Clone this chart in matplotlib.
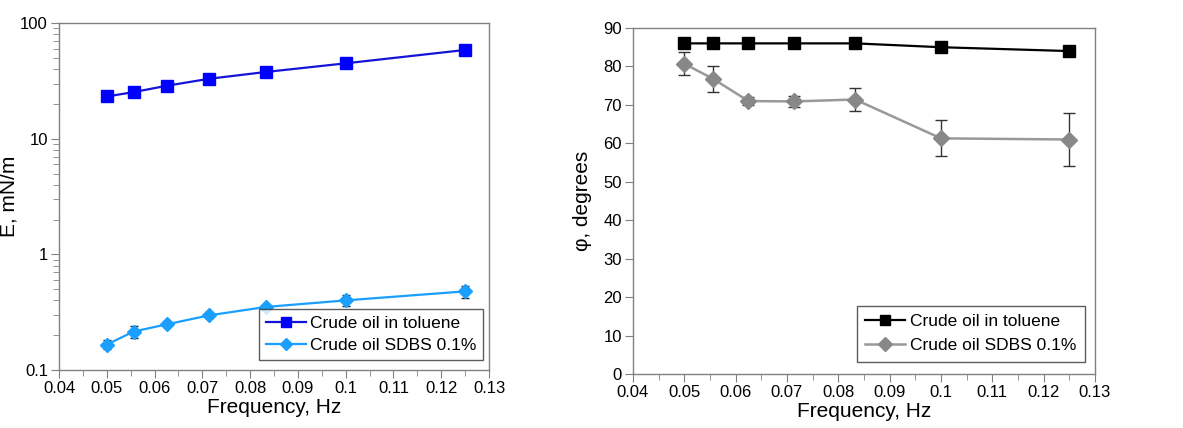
import matplotlib
matplotlib.use("Agg")
import matplotlib.pyplot as plt
from matplotlib.ticker import MultipleLocator, LogLocator, NullFormatter, FuncFormatter

plt.rcParams.update({
    "font.family": ["Liberation Sans", "DejaVu Sans"],
    "font.size": 11,
})

# oscillation frequency, Hz
freq = [0.05, 0.0556, 0.0625, 0.0714, 0.0833, 0.1, 0.125]

# dilatational modulus E, mN/m
e_toluene = [23.2, 25.3, 28.7, 33.0, 37.8, 44.9, 58.6]
e_toluene_err = [1.2, 1.5, 1.4, 1.5, 1.5, 2.0, 2.5]
e_sdbs = [0.166, 0.215, 0.248, 0.297, 0.351, 0.40, 0.479]
e_sdbs_err = [0.014, 0.025, 0.012, 0.018, 0.015, 0.042, 0.058]

# phase angle, degrees
phi_toluene = [86, 86, 86, 86, 86, 85, 84]
phi_sdbs = [80.7, 76.8, 71.0, 70.9, 71.4, 61.3, 61.0]
phi_sdbs_err = [3.0, 3.4, 1.1, 1.4, 3.0, 4.7, 7.0]

labels = ["Crude oil in toluene", "Crude oil SDBS 0.1%"]

fig = plt.figure(figsize=(11.83, 4.28), dpi=100)
ax1 = fig.add_axes([0.0499, 0.1355, 0.3635, 0.8105])
ax2 = fig.add_axes([0.535, 0.126, 0.3906, 0.8086])

SPINE = "#808080"


def style(ax):
    for s in ax.spines.values():
        s.set_color(SPINE)
        s.set_linewidth(1.0)
    ax.tick_params(which="both", direction="out", color=SPINE,
                   labelsize=12, top=False, right=False, pad=2)
    ax.tick_params(which="major", length=6)
    ax.tick_params(which="minor", length=4)
    ax.set_xlim(0.04, 0.13)
    ax.xaxis.set_major_locator(MultipleLocator(0.01))
    ax.xaxis.set_minor_locator(MultipleLocator(0.005))
    ax.xaxis.set_major_formatter(FuncFormatter(lambda v, p: f"{v:g}"))
    ax.set_xlabel("Frequency, Hz", fontsize=15, labelpad=1)


# ---- left: modulus ----
style(ax1)
ax1.set_yscale("log")
ax1.set_ylim(0.1, 100)
ax1.yaxis.set_major_locator(LogLocator(base=10))
ax1.yaxis.set_minor_locator(LogLocator(base=10, subs=range(2, 10)))
ax1.yaxis.set_minor_formatter(NullFormatter())
ax1.yaxis.set_major_formatter(FuncFormatter(lambda v, p: f"{v:g}"))
ax1.set_ylabel("E, mN/m", fontsize=15)
ax1.yaxis.set_label_coords(-0.095, 0.5)

ax1.errorbar(freq, e_toluene, yerr=e_toluene_err, color="#1414d8", lw=1.6,
             marker="s", ms=8, mfc="#0000ff", mec="#0000ff",
             ecolor="#222222", elinewidth=1, capsize=3, label=labels[0])
ax1.errorbar(freq, e_sdbs, yerr=e_sdbs_err, color="#1a9fff", lw=1.6,
             marker="D", ms=7, mfc="#1a9fff", mec="#1a9fff",
             ecolor="#222222", elinewidth=1, capsize=3, label=labels[1])
h, l = ax1.get_legend_handles_labels()
h = [x[0] for x in h]
leg = ax1.legend(h, l, loc="lower right", bbox_to_anchor=(0.995, 0.02),
                 fontsize=12.5, frameon=True, fancybox=False,
                 edgecolor="#333333", handlelength=2.3, borderpad=0.4,
                 labelspacing=0.35, handletextpad=0.25, borderaxespad=0.2,
                 markerscale=0.85)
leg.get_frame().set_linewidth(1.0)

# ---- right: phase angle ----
style(ax2)
ax2.set_ylim(0, 90)
ax2.yaxis.set_major_locator(MultipleLocator(10))
ax2.set_ylabel("\u03c6, degrees", fontsize=15)
ax2.yaxis.set_label_coords(-0.088, 0.5)

ax2.plot(freq, phi_toluene, color="#000000", lw=1.6, marker="s", ms=9,
         mfc="#000000", mec="#000000", label=labels[0], zorder=3)
ax2.errorbar(freq, phi_sdbs, yerr=phi_sdbs_err, color="#999999", lw=1.8,
             marker="D", ms=8, mfc="#888888", mec="#888888",
             ecolor="#333333", elinewidth=1, capsize=4, label=labels[1])
h, l = ax2.get_legend_handles_labels()
h = [h[0], h[1][0]]
leg = ax2.legend(h, l, loc="lower right", bbox_to_anchor=(0.985, 0.025),
                 fontsize=12.5, frameon=True, fancybox=False,
                 edgecolor="#333333", handlelength=2.3, borderpad=0.5,
                 labelspacing=0.5, handletextpad=0.25, borderaxespad=0.2,
                 markerscale=0.85)
leg.get_frame().set_linewidth(1.0)

fig.savefig("out.png", dpi=100, facecolor="white")
